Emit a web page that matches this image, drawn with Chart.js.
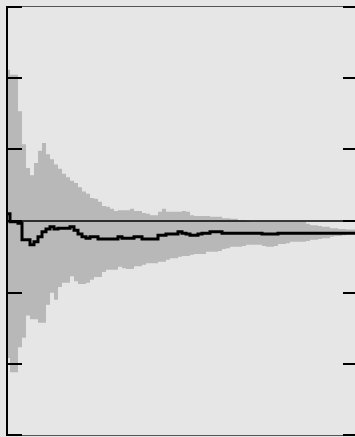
<!DOCTYPE html>
<html>
<head>
<meta charset="utf-8">
<script src="https://cdn.jsdelivr.net/npm/chart.js@4.4.1/dist/chart.umd.min.js"></script>
<style>
  html, body { margin: 0; padding: 0; background: #e6e6e6; overflow: hidden; }
  #wrap { width: 360px; height: 437px; }
</style>
</head>
<body>
<div id="wrap"><canvas id="runChart"></canvas></div>
<script>
// Running mean with its band, one value per step
const upperBand = [
  2.11, 2.04, 2.04, 1.53, 1.07, 0.74, 0.64, 0.81, 0.98, 1.09,
  0.93, 0.86, 0.79, 0.73, 0.66, 0.61, 0.56, 0.53, 0.47, 0.41,
  0.38, 0.32, 0.31, 0.27, 0.21, 0.20, 0.17, 0.14, 0.15, 0.15,
  0.15, 0.17, 0.14, 0.14, 0.11, 0.10, 0.08, 0.08, 0.13, 0.17,
  0.13, 0.13, 0.13, 0.13, 0.14, 0.13, 0.08, 0.07, 0.07, 0.07,
  0.07, 0.06, 0.06, 0.06, 0.04, 0.04, 0.03, 0.03, 0.01, 0.01,
  0.00, -0.01, -0.01, -0.01, -0.01, -0.01, -0.01, -0.01, -0.01, -0.01,
  -0.01, -0.01, -0.01, -0.01, -0.01, -0.04, -0.06, -0.06, -0.07, -0.08,
  -0.08, -0.10, -0.10, -0.11, -0.11, -0.12, -0.12, -0.12
];

const lowerBand = [
  -1.91, -2.11, -2.11, -1.76, -1.63, -1.32, -1.37, -1.37, -1.42, -1.42,
  -1.17, -1.00, -1.10, -0.92, -0.86, -0.86, -0.77, -0.84, -0.88, -0.88,
  -0.86, -0.82, -0.78, -0.78, -0.71, -0.68, -0.68, -0.68, -0.64, -0.66,
  -0.67, -0.67, -0.63, -0.63, -0.61, -0.59, -0.59, -0.59, -0.57, -0.57,
  -0.54, -0.52, -0.52, -0.50, -0.49, -0.49, -0.47, -0.46, -0.46, -0.46,
  -0.43, -0.43, -0.43, -0.42, -0.39, -0.38, -0.36, -0.36, -0.36, -0.35,
  -0.33, -0.33, -0.33, -0.33, -0.35, -0.36, -0.36, -0.35, -0.32, -0.32,
  -0.31, -0.29, -0.29, -0.29, -0.29, -0.28, -0.26, -0.26, -0.25, -0.24,
  -0.24, -0.22, -0.21, -0.21, -0.20, -0.18, -0.18, -0.18
];

const runningMean = [
  0.10, -0.01, -0.01, -0.03, -0.26, -0.26, -0.33, -0.29, -0.22, -0.15,
  -0.11, -0.08, -0.11, -0.10, -0.10, -0.10, -0.08, -0.13, -0.18, -0.22,
  -0.24, -0.22, -0.22, -0.25, -0.25, -0.25, -0.25, -0.25, -0.22, -0.24,
  -0.24, -0.24, -0.22, -0.22, -0.25, -0.25, -0.25, -0.25, -0.20, -0.20,
  -0.18, -0.18, -0.18, -0.15, -0.17, -0.18, -0.20, -0.20, -0.18, -0.17,
  -0.17, -0.15, -0.15, -0.15, -0.17, -0.17, -0.17, -0.17, -0.17, -0.17,
  -0.17, -0.17, -0.17, -0.17, -0.18, -0.18, -0.18, -0.18, -0.17, -0.17,
  -0.17, -0.17, -0.17, -0.17, -0.17, -0.17, -0.17, -0.17, -0.17, -0.17,
  -0.17, -0.17, -0.17, -0.17, -0.17, -0.17, -0.17, -0.17
];

// Axis ticks (no labels are shown)
const yTicks = [-3, -2, -1, 0, 1, 2, 3];
const xMin = 0.25;
const xMax = 88;

// Turn a value list into step points, last value held to the right edge
function toSteps(values) {
  const points = values.map((v, i) => ({ x: i, y: v }));
  points.push({ x: values.length, y: values[values.length - 1] });
  return points;
}

// Frame and inside tick marks
const framePlugin = {
  id: 'frame',
  afterDatasetsDraw(chart) {
    const { ctx, chartArea } = chart;
    const y = chart.scales.y;
    const { left, right, top, bottom } = chartArea;
    ctx.save();

    // top and bottom edges
    ctx.strokeStyle = '#555555';
    ctx.lineWidth = 1;
    ctx.beginPath();
    ctx.moveTo(left, top + 0.5);
    ctx.lineTo(right, top + 0.5);
    ctx.moveTo(left, bottom - 0.5);
    ctx.lineTo(right, bottom - 0.5);
    ctx.stroke();

    // left edge
    ctx.strokeStyle = '#000000';
    ctx.lineWidth = 2;
    ctx.beginPath();
    ctx.moveTo(left, top);
    ctx.lineTo(left, bottom);
    ctx.stroke();

    // tick marks pointing inwards on both sides
    ctx.lineWidth = 2;
    yTicks.forEach(t => {
      let py = Math.round(y.getPixelForValue(t));
      py = Math.min(Math.max(py, top + 1), bottom - 1);
      ctx.beginPath();
      ctx.moveTo(left, py);
      ctx.lineTo(left + 15, py);
      ctx.moveTo(right - 15, py);
      ctx.lineTo(right, py);
      ctx.stroke();
    });
    ctx.restore();
  }
};

function initChart() {
  const canvas = document.getElementById('runChart');
  const zeroLine = [{ x: xMin, y: 0 }, { x: xMax, y: 0 }];

  new Chart(canvas, {
    type: 'line',
    data: {
      datasets: [
        {
          label: 'mean',
          data: toSteps(runningMean),
          stepped: true,
          borderColor: '#000000',
          borderWidth: 3,
          pointRadius: 0,
          fill: false
        },
        {
          label: 'zero',
          data: zeroLine,
          borderColor: '#000000',
          borderWidth: 1.5,
          pointRadius: 0,
          fill: false
        },
        {
          label: 'upper',
          data: toSteps(upperBand),
          stepped: true,
          borderWidth: 0,
          borderColor: 'rgba(0,0,0,0)',
          backgroundColor: '#b8b8b8',
          pointRadius: 0,
          fill: '+1'
        },
        {
          label: 'lower',
          data: toSteps(lowerBand),
          stepped: true,
          borderWidth: 0,
          borderColor: 'rgba(0,0,0,0)',
          pointRadius: 0,
          fill: false
        }
      ]
    },
    options: {
      responsive: true,
      maintainAspectRatio: false,
      animation: false,
      devicePixelRatio: 1,
      layout: { padding: { left: 7, right: 2, top: 6, bottom: 1 } },
      plugins: {
        legend: { display: false },
        tooltip: { enabled: false }
      },
      scales: {
        x: { type: 'linear', min: xMin, max: xMax, display: false },
        y: { type: 'linear', min: -3, max: 3, display: false }
      }
    },
    plugins: [framePlugin]
  });
}

document.addEventListener('DOMContentLoaded', initChart);
</script>
</body>
</html>
